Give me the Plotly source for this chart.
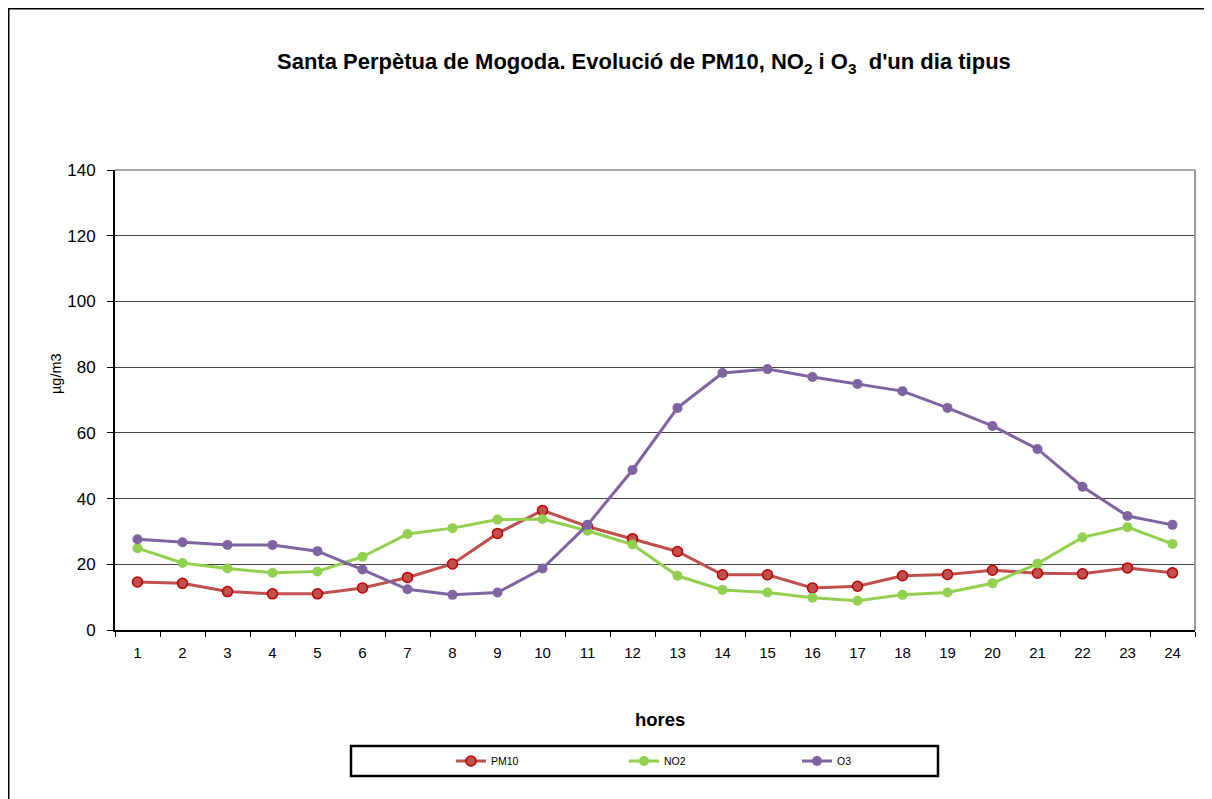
import plotly.graph_objects as go

hours = [str(h) for h in range(1, 25)]
pm10 = [14.6, 14.2, 11.7, 11.0, 11.0, 12.8, 16.0, 20.1, 29.4, 36.4, 31.5, 27.8,
        23.9, 16.8, 16.8, 12.8, 13.3, 16.5, 16.9, 18.2, 17.3, 17.1, 18.9, 17.4]
no2 = [24.9, 20.4, 18.7, 17.4, 17.8, 22.3, 29.2, 31.0, 33.6, 33.8, 30.2, 26.0,
       16.5, 12.2, 11.4, 9.8, 8.9, 10.7, 11.4, 14.2, 20.2, 28.2, 31.3, 26.2]
o3 = [27.6, 26.7, 25.9, 25.9, 24.0, 18.4, 12.4, 10.7, 11.4, 18.7, 32.0, 48.7,
      67.6, 78.2, 79.4, 77.0, 74.9, 72.7, 67.6, 62.1, 55.1, 43.6, 34.7, 32.0]
y_ticks = [0, 20, 40, 60, 80, 100, 120, 140]

FONT = "Arial, Liberation Sans, sans-serif"

fig = go.Figure()
fig.add_trace(go.Scatter(x=hours, y=pm10, name="PM10", mode="lines+markers",
                         line=dict(color="#C0504D", width=3),
                         marker=dict(size=10, color="#C0504D", line=dict(color="#C00000", width=1.5))))
fig.add_trace(go.Scatter(x=hours, y=no2, name="NO2", mode="lines+markers",
                         line=dict(color="#92D050", width=3),
                         marker=dict(size=10, color="#92D050")))
fig.add_trace(go.Scatter(x=hours, y=o3, name="O3", mode="lines+markers",
                         line=dict(color="#8064A2", width=3),
                         marker=dict(size=10, color="#8064A2")))

OFF = 8  # page body margin
L, R, T, B = 115, 1195, 170, 630  # plot area in screen pixels
W, H = 1212 - OFF, 799 - OFF
pw, ph = R - L, B - T
px = lambda v: (v - L) / pw
py = lambda v: (B - v) / ph

shapes = [
    dict(type="line", xref="paper", yref="paper", x0=0, x1=1, y0=1, y1=1,
         line=dict(color="#888888", width=1.5)),
    dict(type="line", xref="paper", yref="paper", x0=1, x1=1, y0=0, y1=1,
         line=dict(color="#999999", width=2)),
    dict(type="line", xref="paper", yref="paper", x0=px(8), x1=px(1212), y0=py(8), y1=py(8),
         line=dict(color="black", width=3)),
    dict(type="line", xref="paper", yref="paper", x0=px(8), x1=px(8), y0=py(8), y1=py(810),
         line=dict(color="black", width=3)),
    dict(type="line", xref="paper", yref="paper", x0=px(1210), x1=px(1210), y0=py(8), y1=py(810),
         line=dict(color="#BBBBBB", width=1.5)),
    dict(type="rect", xref="paper", yref="paper", x0=px(351), x1=px(938), y0=py(746), y1=py(776),
         line=dict(color="black", width=2.5)),
]

fig.update_layout(
    width=W, height=H,
    margin=dict(l=L - OFF, r=W - (R - OFF), t=T - OFF, b=H - (B - OFF)),
    paper_bgcolor="white", plot_bgcolor="white",
    font=dict(family=FONT, color="black", size=13),
    showlegend=True,
    legend=dict(orientation="h", x=px(451), xanchor="left", y=py(761), yanchor="middle",
                font=dict(size=10.5, family=FONT), entrywidth=128, entrywidthmode="pixels",
                bgcolor="rgba(0,0,0,0)", borderwidth=0),
    shapes=shapes,
    annotations=[
        dict(text="<b>Santa Perpètua de Mogoda. Evolució de PM10, NO<sub>2</sub> i O<sub>3</sub>  d'un dia tipus</b>",
             xref="paper", yref="paper", x=px(644), y=py(63), xanchor="center", yanchor="middle",
             showarrow=False, font=dict(size=22, family=FONT)),
        dict(text="<b>hores</b>", xref="paper", yref="paper", x=px(660), y=py(719),
             xanchor="center", yanchor="middle", showarrow=False, font=dict(size=18.5, family=FONT)),
        dict(text="µg/m3", xref="paper", yref="paper", x=px(56), y=py(374), textangle=-90,
             xanchor="center", yanchor="middle", showarrow=False, font=dict(size=14.5, family=FONT)),
    ],
)
fig.update_xaxes(type="category", tickson="boundaries", ticks="outside", ticklen=5,
                 tickcolor="black", showline=True, linecolor="black", linewidth=2,
                 showgrid=False, tickfont=dict(size=15), range=[-0.5, 23.5],
                 ticklabelstandoff=8)
fig.update_yaxes(range=[0, 140], tickvals=y_ticks, ticks="outside", ticklen=6,
                 tickcolor="black", showline=True, linecolor="black", linewidth=2,
                 showgrid=True, gridcolor="#444444", gridwidth=1, zeroline=False,
                 tickfont=dict(size=17), ticklabelstandoff=8)

fig.write_html("out.html")
